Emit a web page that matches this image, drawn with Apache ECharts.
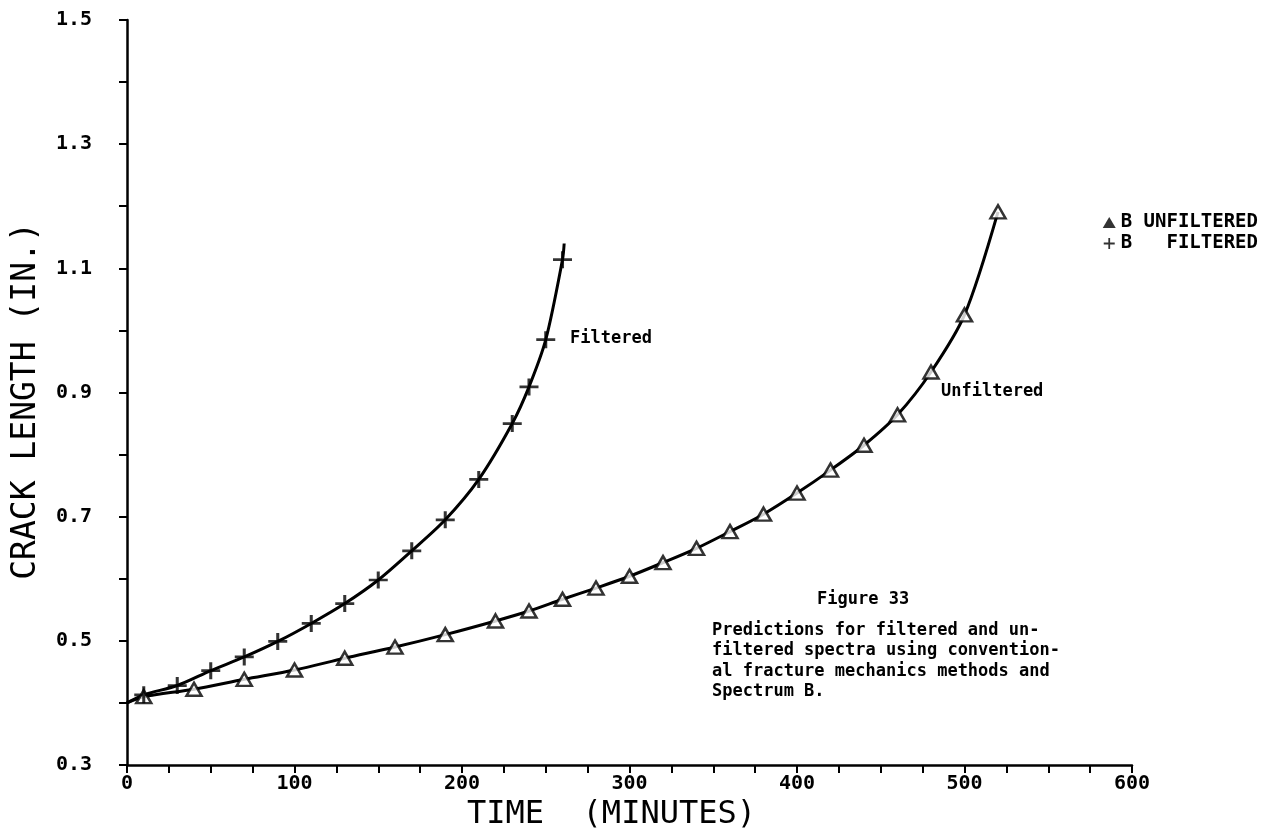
<!DOCTYPE html>
<html>
<head>
<meta charset="utf-8">
<title>Figure 33 - Crack length vs time</title>
<script src="https://cdn.jsdelivr.net/npm/echarts@6/dist/echarts.min.js"></script>
<style>
  html, body { margin: 0; padding: 0; background: #fff; }
  #crack-chart { width: 1279px; height: 832px; }
</style>
</head>
<body>
<div id="crack-chart"></div>
<script>
// values (time in minutes, crack length in inches)
var filteredTime = [10, 30, 50, 70, 90, 110, 130, 150, 170, 190, 210, 230, 240, 250, 260];
var filteredCrack = [0.413, 0.428, 0.452, 0.474, 0.499, 0.528, 0.560, 0.598, 0.645, 0.695, 0.760, 0.850, 0.909, 0.985, 1.114];

var unfilteredTime = [10, 40, 70, 100, 130, 160, 190, 220, 240, 260, 280, 300, 320, 340, 360, 380, 400, 420, 440, 460, 480, 500, 520];
var unfilteredCrack = [0.410, 0.422, 0.438, 0.453, 0.472, 0.490, 0.510, 0.532, 0.548, 0.567, 0.585, 0.604, 0.626, 0.649, 0.676, 0.704, 0.738, 0.775, 0.815, 0.864, 0.933, 1.025, 1.191];

// where the fitted curves start / end beyond the markers
var curveStart = [0, 0.40];
var filteredCurveEnd = [261, 1.14];

var xTickLabels = ['0', '100', '200', '300', '400', '500', '600'];
var yTickLabels = ['0.3', '0.5', '0.7', '0.9', '1.1', '1.3', '1.5'];

var captionTitle = 'Figure 33';
var captionLines = [
    'Predictions for filtered and un-',
    'filtered spectra using convention-',
    'al fracture mechanics methods and',
    'Spectrum B.'
];

var plusPath = 'path://M0,4.2H10V5.8H0Z M4.2,0H5.8V10H4.2Z';
var mono = '"DejaVu Sans Mono", "Liberation Mono", monospace';

function pairs(xs, ys) {
    var out = [];
    for (var i = 0; i < xs.length; i++) {
        out.push([xs[i], ys[i]]);
    }
    return out;
}

var filteredPts = pairs(filteredTime, filteredCrack);
var unfilteredPts = pairs(unfilteredTime, unfilteredCrack);
var filteredCurve = [curveStart].concat(filteredPts, [filteredCurveEnd]);
var unfilteredCurve = [curveStart].concat(unfilteredPts);

var chartElement = document.getElementById('crack-chart');
var chart = echarts.init(chartElement);

var tickStyle = { color: '#000', width: 2 };
var noteFont = 'bold 17px ' + mono;

var captionGraphics = [{
    type: 'text',
    left: 817,
    top: 591,
    style: { text: captionTitle, font: noteFont, fill: '#000' }
}];
captionLines.forEach(function (line, i) {
    captionGraphics.push({
        type: 'text',
        left: 712,
        top: 622 + i * 20.5,
        style: { text: line, font: noteFont, fill: '#000' }
    });
});
captionGraphics.push({
    type: 'text',
    left: 570,
    top: 330,
    style: { text: 'Filtered', font: noteFont, fill: '#000' }
});
captionGraphics.push({
    type: 'text',
    left: 941,
    top: 383,
    style: { text: 'Unfiltered', font: noteFont, fill: '#000' }
});

var option = {
    backgroundColor: '#fff',
    animation: false,
    grid: { left: 127, right: 147, top: 20, bottom: 67, containLabel: false, outerBoundsMode: 'none' },
    legend: {
        orient: 'vertical',
        right: 16,
        top: 208,
        itemWidth: 13,
        itemHeight: 11,
        itemGap: 2,
        textStyle: { fontFamily: mono, fontWeight: 'bold', fontSize: 19, color: '#000' },
        data: [
            { name: 'B UNFILTERED', icon: 'triangle', itemStyle: { color: '#000', borderWidth: 0 } },
            { name: 'B   FILTERED', icon: plusPath, itemStyle: { color: '#000', borderWidth: 0 } }
        ]
    },
    xAxis: {
        type: 'value',
        min: 0,
        max: 600,
        interval: 100,
        name: 'TIME  (MINUTES)',
        nameLocation: 'middle',
        nameGap: 25,
        nameTextStyle: { fontFamily: mono, fontSize: 32, color: '#000', padding: [0, 36, 0, 0] },
        axisLine: { lineStyle: { color: '#000', width: 2.5 } },
        axisTick: { length: 8, lineStyle: tickStyle },
        minorTick: { show: true, splitNumber: 4, length: 8, lineStyle: tickStyle },
        splitLine: { show: false },
        axisLabel: {
            margin: 9,
            fontFamily: mono,
            fontWeight: 'bold',
            fontSize: 20,
            color: '#000',
            formatter: function (v) {
                return xTickLabels[Math.round(v / 100)];
            }
        }
    },
    yAxis: {
        type: 'value',
        min: 0.3,
        max: 1.5,
        interval: 0.2,
        name: 'CRACK LENGTH (IN.)',
        nameLocation: 'middle',
        nameGap: 84,
        nameTextStyle: { fontFamily: mono, fontSize: 33, color: '#000', padding: [0, 17, 0, 0] },
        axisLine: { show: true, lineStyle: { color: '#000', width: 2.5 } },
        axisTick: { show: true, length: 8, lineStyle: tickStyle },
        minorTick: { show: true, splitNumber: 2, length: 8, lineStyle: tickStyle },
        splitLine: { show: false },
        axisLabel: {
            margin: 35,
            fontFamily: mono,
            fontWeight: 'bold',
            fontSize: 20,
            color: '#000',
            formatter: function (v) {
                return yTickLabels[Math.round((v - 0.3) / 0.2)];
            }
        }
    },
    graphic: captionGraphics,
    series: [
        {
            name: 'filtered curve',
            type: 'line',
            data: filteredCurve,
            smooth: 0.3,
            showSymbol: false,
            lineStyle: { color: '#000', width: 3 },
            z: 2
        },
        {
            name: 'unfiltered curve',
            type: 'line',
            data: unfilteredCurve,
            smooth: 0.3,
            showSymbol: false,
            lineStyle: { color: '#000', width: 3 },
            z: 2
        },
        {
            name: 'B UNFILTERED',
            type: 'scatter',
            data: unfilteredPts,
            symbol: 'triangle',
            symbolSize: [15, 13],
            itemStyle: { color: '#fff', borderColor: '#000', borderWidth: 2.5 },
            z: 3
        },
        {
            name: 'B   FILTERED',
            type: 'scatter',
            data: filteredPts,
            symbol: plusPath,
            symbolSize: [19, 17],
            itemStyle: { color: '#000' },
            z: 3
        }
    ]
};

chart.setOption(option);

window.addEventListener('resize', function () {
    chart.resize();
});
</script>
</body>
</html>
